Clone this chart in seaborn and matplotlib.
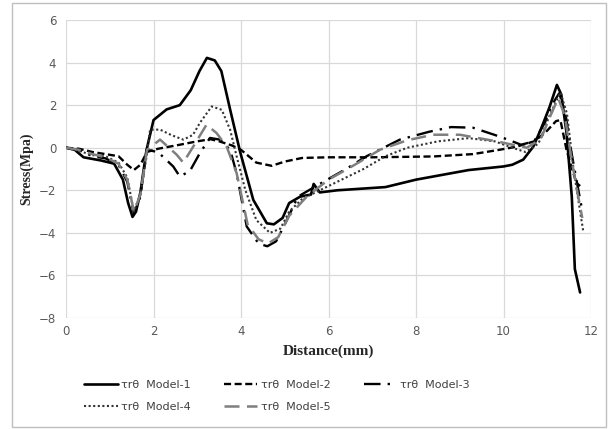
import numpy as np
import pandas as pd
import seaborn as sns
import matplotlib.pyplot as plt
from matplotlib.patches import Rectangle

sns.set_style("white")
plt.rcParams['font.family'] = ['DejaVu Sans']

x1 = [0, 0.2, 0.4, 0.8, 1.1, 1.3, 1.42, 1.52, 1.6, 1.7, 1.84, 2.0, 2.3, 2.6, 2.85, 3.05, 3.22, 3.4, 3.55, 3.75,
      3.98, 4.28, 4.59, 4.75, 4.95, 5.1, 5.35, 5.6, 5.66, 5.8, 6.2, 7.3, 8.0, 9.2, 10.0, 10.2, 10.45, 10.68, 10.85, 11.05,
      11.22, 11.32, 11.44, 11.56, 11.63, 11.75]
y1 = [0, -0.1, -0.45, -0.6, -0.75, -1.5, -2.6, -3.25, -3.0, -2.1, -0.1, 1.3, 1.8, 2.0, 2.7, 3.6, 4.22, 4.1, 3.6, 1.8,
      -0.2, -2.45, -3.55, -3.6, -3.3, -2.6, -2.3, -2.2, -1.7, -2.1, -2.0, -1.85, -1.5, -1.05, -0.88, -0.8, -0.56, 0.05, 0.85, 1.9,
      2.95, 2.5, 0.7, -2.3, -5.7, -6.8]

x2 = [0, 0.3, 0.6, 0.9, 1.2, 1.4, 1.55, 1.7, 1.85, 2.1, 2.6, 3.0, 3.3, 3.5, 3.8, 4.0, 4.35, 4.7, 5.0, 5.4,
      6.0, 7.0, 8.4, 9.3, 9.9, 10.3, 10.7, 10.95, 11.2, 11.3, 11.44, 11.55, 11.67, 11.75]
y2 = [0, -0.05, -0.2, -0.3, -0.4, -0.8, -1.05, -0.8, -0.2, -0.05, 0.14, 0.3, 0.4, 0.3, 0.1, -0.1, -0.7, -0.85, -0.65, -0.48,
      -0.45, -0.45, -0.41, -0.3, -0.1, 0.05, 0.3, 0.7, 1.25, 1.3, -0.1, -0.9, -1.66, -1.8]

x3 = [0, 0.3, 0.6, 0.9, 1.2, 1.4, 1.55, 1.7, 1.84, 2.1, 2.45, 2.6, 2.83, 3.06, 3.29, 3.52, 3.75, 3.9, 4.13, 4.4,
      4.6, 4.8, 5.0, 5.3, 5.8, 6.4, 6.87, 7.63, 8.3, 8.8, 9.3, 9.8, 10.1, 10.4, 10.7, 10.95, 11.1, 11.27, 11.4, 11.55,
      11.68, 11.78]
y3 = [0, -0.1, -0.4, -0.5, -0.8, -1.6, -3.1, -2.3, -0.1, -0.2, -0.88, -1.35, -1.1, -0.25, 0.46, 0.38, -0.1, -1.2, -3.7, -4.5,
      -4.63, -4.4, -3.6, -2.3, -1.7, -1.0, -0.4, 0.38, 0.75, 0.97, 0.94, 0.6, 0.38, 0.14, 0.3, 1.2, 2.0, 2.55, 1.8, -0.2,
      -1.66, -2.75]

x4 = [0, 0.3, 0.6, 0.9, 1.2, 1.4, 1.55, 1.7, 1.85, 1.92, 2.15, 2.4, 2.68, 2.9, 3.06, 3.33, 3.56, 3.75, 3.9, 4.1,
      4.35, 4.66, 4.9, 5.1, 5.4, 5.8, 6.2, 6.8, 7.3, 7.8, 8.5, 9.2, 9.8, 10.2, 10.5, 10.8, 11.05, 11.3, 11.45, 11.6,
      11.72, 11.82]
y4 = [0, -0.15, -0.35, -0.4, -0.7, -1.4, -3.0, -2.2, -0.3, 0.85, 0.85, 0.6, 0.38, 0.6, 1.17, 1.94, 1.78, 0.85, -0.41, -2.0,
      -3.4, -4.0, -3.8, -3.0, -2.4, -2.0, -1.6, -1.0, -0.4, 0.0, 0.3, 0.45, 0.3, 0.0, -0.2, 0.2, 1.5, 2.6, 1.6, -1.0,
      -2.6, -3.9]

x5 = [0, 0.3, 0.6, 0.9, 1.2, 1.4, 1.55, 1.7, 1.85, 2.15, 2.53, 2.68, 2.91, 3.21, 3.44, 3.67, 3.9, 4.15, 4.4, 4.62,
      4.85, 5.1, 5.5, 6.0, 6.6, 7.18, 7.8, 8.39, 9.0, 9.84, 10.53, 10.85, 11.05, 11.25, 11.4, 11.55, 11.68, 11.8]
y5 = [0, -0.1, -0.3, -0.45, -0.75, -1.5, -3.0, -2.2, -0.1, 0.38, -0.33, -0.7, 0.06, 1.08, 0.69, 0.06, -1.2, -3.6, -4.3, -4.5,
      -4.2, -3.2, -2.3, -1.5, -0.8, -0.09, 0.35, 0.61, 0.61, 0.3, 0.0, 0.4, 1.4, 2.33, 1.5, -0.5, -2.0, -3.3]

labels = ["τrθ  Model-1", "τrθ  Model-2", "τrθ  Model-3", "τrθ  Model-4", "τrθ  Model-5"]
xs = [x1, x2, x3, x4, x5]
ys = [y1, y2, y3, y4, y5]

styles = [
    dict(color="black", lw=1.9, ls="-"),
    dict(color="black", lw=1.7, ls=(0, (3, 1.5))),
    dict(color="black", lw=1.7, ls=(0, (7, 3, 1, 3))),
    dict(color="#333333", lw=1.5, ls=(0, (1, 1.2))),
    dict(color="#7f7f7f", lw=1.8, ls=(0, (6, 3))),
]

fig = plt.figure(figsize=(6.08, 4.29), dpi=100)
ax = fig.add_axes([0.1086, 0.2587, 0.8635, 0.6947])

for x, y, lab, st in zip(xs, ys, labels, styles):
    sns.lineplot(x=x, y=y, ax=ax, sort=False, estimator=None, label=lab,
                 color=st["color"], linewidth=st["lw"], linestyle=st["ls"])

ax.set_xlim(0, 12)
ax.set_ylim(-8, 6)
ax.set_xticks(range(0, 13, 2))
ax.set_yticks(range(-8, 7, 2))
ax.grid(True, color="#d9d9d9", linewidth=0.9)
for s in ax.spines.values():
    s.set_visible(False)
ax.tick_params(axis="y", length=4, color="#d9d9d9", labelsize=8.5, labelcolor="#595959", pad=3)
ax.tick_params(axis="x", length=0, labelsize=8.5, labelcolor="#595959", pad=5)

ax.set_xlabel("Distance(mm)", family="Liberation Serif", weight="bold", fontsize=11, labelpad=5)
ax.set_ylabel("Stress(Mpa)", family="Liberation Serif", weight="bold", fontsize=10, labelpad=4)

# legend filled row by row: Model-1..3 on top, Model-4..5 below
handles, labs = ax.get_legend_handles_labels()
order = [0, 3, 1, 4, 2]
ax.legend([handles[i] for i in order], [labs[i] for i in order],
          loc="upper center", bbox_to_anchor=(0.402, -0.175), ncol=3, frameon=False,
          fontsize=8, handlelength=3.0, columnspacing=3.0, labelspacing=1.05, handletextpad=0.3)
for t in ax.get_legend().get_texts():
    t.set_color("#404040")

fig.patches.append(Rectangle((12 / 608, 2 / 429), 594 / 608, 424 / 429, transform=fig.transFigure,
                             fill=False, edgecolor="#bfbfbf", linewidth=1.0))

fig.savefig("out.png", dpi=100)
